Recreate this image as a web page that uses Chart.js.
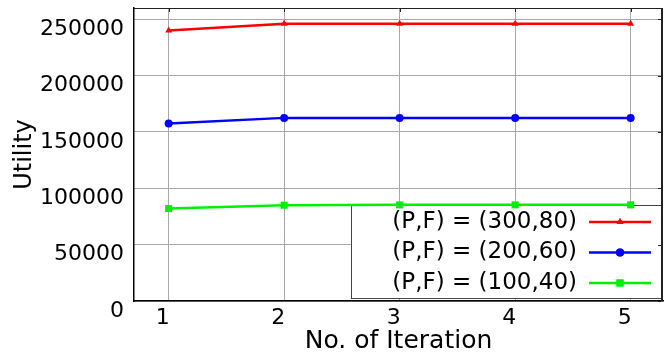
<!DOCTYPE html>
<html>
<head>
<meta charset="utf-8">
<script src="https://cdn.jsdelivr.net/npm/chart.js@4/dist/chart.umd.min.js"></script>
<style>
  html, body { margin: 0; padding: 0; background: #fff; }
  #wrap { width: 668px; height: 356px; }
</style>
</head>
<body>
<div id="wrap"><canvas id="c" width="668" height="356"></canvas></div>
<script>
    // Data
    var iterations = [1, 2, 3, 4, 5];
    var yTickValues = [0, 50000, 100000, 150000, 200000, 250000];
    var seriesLabels = ['(P,F) = (300,80)', '(P,F) = (200,60)', '(P,F) = (100,40)'];
    var utility300 = [240000, 246000, 246000, 246000, 246000];
    var utility200 = [157500, 162500, 162500, 162500, 162500];
    var utility100 = [82000, 85000, 85300, 85300, 85300];

    var FONT = '"DejaVu Sans", Verdana, sans-serif';

    function points(values) {
        return iterations.map(function(x, i) { return { x: x, y: values[i] }; });
    }

    // Frame, inner tick marks and legend box
    var framePlugin = {
        id: 'frame',
        beforeDatasetsDraw: function(chart) {
            var ctx = chart.ctx, a = chart.chartArea;
            var bx = a.left + 217, by = a.top + 197, bw = a.right - 1 - bx, bh = a.bottom - 3 - by;
            ctx.save();
            ctx.fillStyle = '#fff';
            ctx.fillRect(bx, by, bw, bh);
            ctx.strokeStyle = '#444';
            ctx.lineWidth = 1;
            ctx.strokeRect(bx + 0.5, by + 0.5, bw, bh);
            ctx.font = '23px ' + FONT;
            ctx.textAlign = 'right';
            ctx.textBaseline = 'middle';
            chart.data.datasets.forEach(function(ds, i) {
                var cy = by + 17 + i * 30.5;
                ctx.fillStyle = '#000';
                ctx.fillText(ds.label, bx + 226, cy);
                ctx.strokeStyle = ds.borderColor;
                ctx.lineWidth = 2.5;
                ctx.beginPath();
                ctx.moveTo(bx + 238, cy);
                ctx.lineTo(bx + 300, cy);
                ctx.stroke();
                ctx.fillStyle = ds.borderColor;
                ctx.beginPath();
                Chart.helpers.drawPoint(ctx, {
                    pointStyle: ds.pointStyle,
                    radius: ds.pointRadius,
                    borderWidth: 0
                }, bx + 269, cy);
                ctx.fill();
            });
            ctx.restore();
        },
        afterDraw: function(chart) {
            var ctx = chart.ctx, a = chart.chartArea;
            var xs = chart.scales.x, ys = chart.scales.y;
            ctx.save();
            ctx.strokeStyle = '#222';
            ctx.lineWidth = 1;
            ctx.beginPath();
            ctx.moveTo(a.left, a.top + 0.5);
            ctx.lineTo(a.right, a.top + 0.5);
            ctx.stroke();
            ctx.lineWidth = 2;
            ctx.beginPath();
            ctx.moveTo(a.right - 1, a.top);
            ctx.lineTo(a.right - 1, a.bottom);
            ctx.stroke();
            ctx.lineWidth = 1;
            ctx.beginPath();
            iterations.forEach(function(v) {
                var px = Math.round(xs.getPixelForValue(v)) + 0.5;
                ctx.moveTo(px, a.top);
                ctx.lineTo(px, a.top + 4);
            });
            yTickValues.forEach(function(v) {
                var py = Math.round(ys.getPixelForValue(v)) + 0.5;
                ctx.moveTo(a.right - 2, py);
                ctx.lineTo(a.right - 5, py);
            });
            ctx.stroke();
            ctx.restore();
        }
    };

    var colors = ['#ff0000', '#0000ff', '#00f000'];
    var styles = ['triangle', 'circle', 'rect'];
    var radii = [4, 4, 5];
    var values = [utility300, utility200, utility100];

    new Chart(document.getElementById('c'), {
        type: 'line',
        data: {
            datasets: values.map(function(v, i) {
                return {
                    label: seriesLabels[i],
                    data: points(v),
                    borderColor: colors[i],
                    backgroundColor: colors[i],
                    borderWidth: 2.5,
                    pointStyle: styles[i],
                    pointRadius: radii[i],
                    pointBorderWidth: 0,
                    pointBackgroundColor: colors[i],
                    tension: 0
                };
            })
        },
        options: {
            responsive: false,
            animation: false,
            layout: { padding: { top: 8, right: 3, left: 0, bottom: 0 } },
            plugins: {
                legend: { display: false },
                tooltip: { enabled: false }
            },
            scales: {
                x: {
                    type: 'linear',
                    min: 0.7,
                    max: 5.28,
                    afterBuildTicks: function(scale) {
                        scale.ticks = iterations.map(function(v) { return { value: v }; });
                    },
                    afterFit: function(scale) {
                        scale.height = 55;
                        scale.paddingLeft = 0;
                        scale.paddingRight = 0;
                    },
                    grid: { color: '#a8a8a8', lineWidth: 1, drawTicks: false },
                    border: { color: '#000', width: 1.5 },
                    ticks: {
                        font: { family: FONT, size: 22 },
                        color: '#000',
                        padding: 4,
                        labelOffset: -6,
                        maxRotation: 0
                    },
                    title: {
                        display: true,
                        text: 'No. of Iteration',
                        font: { family: FONT, size: 25 },
                        color: '#000',
                        padding: { top: 0, bottom: 0 }
                    }
                },
                y: {
                    min: 0,
                    max: 260000,
                    afterBuildTicks: function(scale) {
                        scale.ticks = yTickValues.map(function(v) { return { value: v }; });
                    },
                    afterFit: function(scale) {
                        scale.width = 134;
                        scale.paddingTop = 0;
                        scale.paddingBottom = 0;
                    },
                    grid: { color: '#a8a8a8', lineWidth: 1, drawTicks: false },
                    border: { color: '#000', width: 1.5 },
                    ticks: {
                        font: { family: FONT, size: 22 },
                        color: '#000',
                        padding: 10,
                        labelOffset: 10,
                        callback: function(v) { return String(v); }
                    },
                    title: {
                        display: true,
                        text: 'Utility',
                        font: { family: FONT, size: 24 },
                        color: '#000',
                        padding: { top: 10, bottom: 0 }
                    }
                }
            }
        },
        plugins: [framePlugin]
    });
</script>
</body>
</html>
